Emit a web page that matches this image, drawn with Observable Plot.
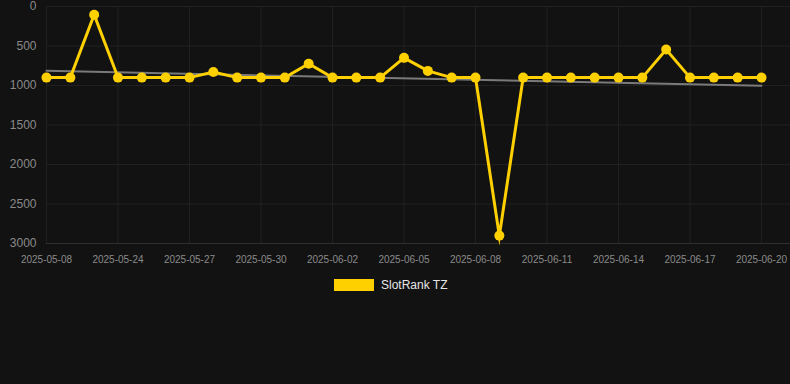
<!DOCTYPE html>
<html>
<head>
<meta charset="utf-8">
<script src="https://cdn.jsdelivr.net/npm/d3@7"></script>
<script src="https://cdn.jsdelivr.net/npm/@observablehq/plot@0.6"></script>
<style>
  html, body { margin: 0; padding: 0; background: #121212; width: 790px; height: 384px; overflow: hidden; }
  #legend { display: flex; align-items: center; padding-left: 334px; padding-top: 8px; font-family: "Liberation Sans", Arial, sans-serif; font-size: 12px; color: #e6e6e6; }
  #legend .sw { width: 40px; height: 12px; background: #ffd000; margin-right: 7px; }
</style>
</head>
<body>
<div id="chart"></div>
<div id="legend"><span class="sw"></span><span id="legend-label"></span></div>
<script>
const dates = [
  "2025-05-08","2025-05-22","2025-05-23","2025-05-24","2025-05-25","2025-05-26",
  "2025-05-27","2025-05-28","2025-05-29","2025-05-30","2025-05-31","2025-06-01",
  "2025-06-02","2025-06-03","2025-06-04","2025-06-05","2025-06-06","2025-06-07",
  "2025-06-08","2025-06-09","2025-06-10","2025-06-11","2025-06-12","2025-06-13",
  "2025-06-14","2025-06-15","2025-06-16","2025-06-17","2025-06-18","2025-06-19",
  "2025-06-20"
];
const ranks = [
  900, 900, 105, 900, 900, 900,
  900, 830, 900, 900, 900, 725,
  900, 900, 900, 650, 815, 900,
  900, 2900, 900, 900, 900, 900,
  900, 900, 545, 900, 900, 900,
  900
];
const xTickIndex = [0, 3, 6, 9, 12, 15, 18, 21, 24, 27, 30];
const yTicks = [0, 500, 1000, 1500, 2000, 2500, 3000];
const seriesName = "SlotRank TZ";

const yellow = "#ffd000";
const data = ranks.map((v, i) => ({i, date: dates[i], v}));

const chart = Plot.plot({
  width: 790,
  height: 270,
  marginLeft: 46,
  marginRight: 0,
  marginTop: 6,
  marginBottom: 27,
  style: {background: "#121212", fontFamily: "'Liberation Sans', Arial, sans-serif"},
  x: {type: "linear", domain: [0, dates.length - 1], range: [46, 761]},
  y: {domain: [0, 3000], range: [6, 243]},
  marks: [
    Plot.ruleY(yTicks.slice(0, -1), {stroke: "#202020", strokeWidth: 1}),
    Plot.ruleY([3000], {stroke: "#2e2e2e", strokeWidth: 1}),
    Plot.ruleX(xTickIndex, {stroke: "#202020", strokeWidth: 1, y1: 0, y2: 3000}),
    Plot.linearRegressionY(data, {x: "i", y: "v", ci: 0, stroke: "#7a7a7a", strokeWidth: 2}),
    Plot.line(data, {x: "i", y: "v", stroke: yellow, strokeWidth: 3, strokeLinejoin: "miter", strokeMiterlimit: 10}),
    Plot.dot(data, {x: "i", y: "v", r: 5, fill: yellow, stroke: null}),
    Plot.axisX({ticks: xTickIndex, tickFormat: i => dates[i], tickSize: 0, tickPadding: 12, fontSize: 10, fill: "#8a8a8a", label: null}),
    Plot.axisY({ticks: yTicks, tickFormat: d => String(d), tickSize: 0, tickPadding: 10, fontSize: 12, fill: "#8a8a8a", label: null})
  ]
});
document.getElementById("chart").appendChild(chart);
document.getElementById("legend-label").textContent = seriesName;
</script>
</body>
</html>
